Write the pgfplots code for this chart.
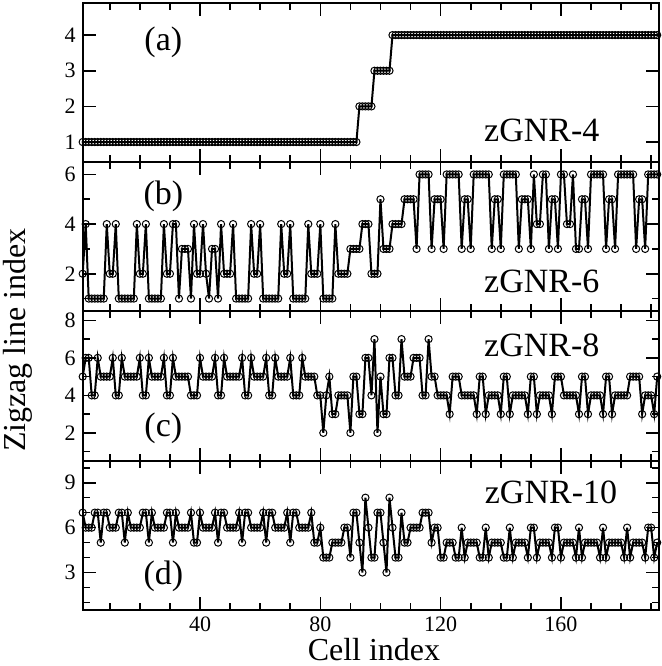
\documentclass[border=0pt]{standalone}
\usepackage{fontspec}
\setmainfont{Liberation Serif}
\usepackage{pgfplots}
\usepackage{pgfplotstable}
\pgfplotsset{compat=1.18}

% columns: cell index, zGNR-4, zGNR-6, zGNR-8, zGNR-10
\pgfplotstableread{
i a b c d
1 1 2 5 7
2 1 4 6 6
3 1 1 6 6
4 1 1 4 6
5 1 1 4 7
6 1 1 6 7
7 1 1 5 5
8 1 1 5 7
9 1 4 5 7
10 1 2 5 6
11 1 2 6 6
12 1 4 4 6
13 1 1 4 7
14 1 1 6 7
15 1 1 5 5
16 1 1 5 7
17 1 1 5 6
18 1 1 5 6
19 1 4 5 6
20 1 2 6 6
21 1 2 4 7
22 1 4 4 7
23 1 1 6 5
24 1 1 5 7
25 1 1 5 6
26 1 1 5 6
27 1 1 5 6
28 1 4 6 6
29 1 2 4 7
30 1 2 4 7
31 1 4 6 5
32 1 4 5 7
33 1 1 5 6
34 1 3 5 6
35 1 3 5 6
36 1 3 5 6
37 1 1 4 7
38 1 4 4 5
39 1 2 4 5
40 1 2 6 7
41 1 4 5 6
42 1 2 5 6
43 1 1 5 6
44 1 3 5 6
45 1 3 6 7
46 1 1 4 5
47 1 4 4 7
48 1 2 6 7
49 1 2 5 6
50 1 2 5 6
51 1 4 5 6
52 1 1 5 6
53 1 1 5 7
54 1 1 6 5
55 1 1 4 7
56 1 1 4 7
57 1 4 6 6
58 1 2 5 6
59 1 2 5 6
60 1 4 5 6
61 1 1 5 7
62 1 1 6 5
63 1 1 4 7
64 1 1 4 7
65 1 1 6 6
66 1 1 5 6
67 1 4 5 6
68 1 2 5 6
69 1 2 5 7
70 1 4 6 5
71 1 1 4 7
72 1 1 4 7
73 1 1 4 6
74 1 1 6 6
75 1 1 5 6
76 1 4 5 6
77 1 2 5 7
78 1 2 5 5
79 1 2 4 5
80 1 4 4 6
81 1 1 2 4
82 1 1 4 4
83 1 1 5 4
84 1 1 3 5
85 1 4 3 5
86 1 2 4 5
87 1 2 4 5
88 1 2 4 6
89 1 2 4 6
90 1 3 2 4
91 1 3 5 7
92 1 3 5 7
93 2 3 3 5
94 2 4 3 3
95 2 4 6 8
96 2 4 6 6
97 2 2 4 4
98 3 2 7 4
99 3 2 2 7
100 3 5 5 7
101 3 3 3 5
102 3 3 3 3
103 3 3 6 8
104 4 4 6 6
105 4 4 4 4
106 4 4 4 4
107 4 4 7 7
108 4 5 5 5
109 4 5 5 5
110 4 5 5 6
111 4 5 6 6
112 4 3 6 6
113 4 6 6 6
114 4 6 4 7
115 4 6 4 7
116 4 6 7 7
117 4 3 5 5
118 4 5 5 6
119 4 5 4 6
120 4 5 4 4
121 4 3 4 4
122 4 6 4 5
123 4 6 3 5
124 4 6 5 5
125 4 6 5 4
126 4 6 5 4
127 4 3 4 6
128 4 5 4 4
129 4 5 4 5
130 4 3 4 5
131 4 6 4 5
132 4 6 3 5
133 4 6 5 4
134 4 6 5 4
135 4 6 3 6
136 4 6 4 4
137 4 3 4 5
138 4 5 4 5
139 4 5 4 5
140 4 3 3 5
141 4 6 5 4
142 4 6 5 4
143 4 6 3 6
144 4 6 4 4
145 4 6 4 5
146 4 3 4 5
147 4 5 4 5
148 4 5 4 5
149 4 5 3 4
150 4 3 5 6
151 4 6 5 6
152 4 4 3 4
153 4 4 4 5
154 4 6 4 5
155 4 6 4 5
156 4 3 4 5
157 4 5 3 4
158 4 5 5 6
159 4 3 5 6
160 4 6 5 4
161 4 6 4 5
162 4 4 4 5
163 4 4 4 5
164 4 6 4 5
165 4 3 4 4
166 4 3 3 6
167 4 5 5 4
168 4 5 5 5
169 4 3 3 5
170 4 6 4 5
171 4 6 4 5
172 4 6 4 5
173 4 6 4 4
174 4 6 3 6
175 4 3 5 4
176 4 5 5 5
177 4 5 3 5
178 4 3 4 5
179 4 6 4 5
180 4 6 4 5
181 4 6 4 4
182 4 6 4 6
183 4 6 5 4
184 4 6 5 5
185 4 3 5 5
186 4 5 5 5
187 4 5 3 5
188 4 3 4 4
189 4 6 4 6
190 4 6 4 6
191 4 6 3 4
192 4 6 5 5
}\zz

\pgfplotsset{
  panel/.style={
    at={(0,#1)}, anchor=south west,
    scale only axis, width=288pt,
    xmin=1, xmax=192.5,
    xtick={40,80,120,160}, minor xtick={10,20,...,190},
    xticklabels={},
    tick align=inside,
    major tick length=6.5pt, minor tick length=3.5pt,
    every tick/.append style={black, line width=0.8pt},
    axis line style={line width=1pt},
    ticklabel style={font=\fontsize{11}{11}\selectfont},
    /pgf/number format/assume math mode=true,
  },
  ser/.style={black, line width=1pt, mark=o, mark size=1.8pt,
    mark options={line width=0.5pt}},
}
\tikzset{lab/.style={font=\fontsize{17}{17}\selectfont}}

\begin{document}
\begin{tikzpicture}
\useasboundingbox (-41.35pt,-28pt) rectangle (289.15pt,305pt);

% (a) zGNR-4
\begin{axis}[panel=224pt, height=79.5pt, ymin=0.44, ymax=4.9, ytick={1,2,3,4}]
  \addplot[ser] table[x=i, y=a] {\zz};
  \node[lab] at (rel axis cs:0.14,0.755) {(a)};
  \node[lab] at (rel axis cs:0.797,0.2) {zGNR-4};
\end{axis}

% (b) zGNR-6
\begin{axis}[panel=149.5pt, height=74.5pt, ymin=0.5, ymax=6.5, ytick={2,4,6}, minor ytick={1,3,5}]
  \addplot[ser] table[x=i, y=b] {\zz};
  \node[lab] at (rel axis cs:0.14,0.772) {(b)};
  \node[lab] at (rel axis cs:0.797,0.2) {zGNR-6};
\end{axis}

% (c) zGNR-8
\begin{axis}[panel=74.5pt, height=75pt, ymin=0.5, ymax=8.5, ytick={2,4,6,8}, minor ytick={1,3,5,7}]
  \addplot[ser] table[x=i, y=c] {\zz};
  \node[lab] at (rel axis cs:0.14,0.22) {(c)};
  \node[lab] at (rel axis cs:0.797,0.773) {zGNR-8};
\end{axis}

% (d) zGNR-10
\begin{axis}[panel=0pt, height=74.5pt, ymin=0.5, ymax=10.45, ytick={3,6,9}, minor ytick={1,2,4,5,7,8,10},
    xticklabels={40,80,120,160}]
  \addplot[ser] table[x=i, y=d] {\zz};
  \node[lab] at (rel axis cs:0.14,0.228) {(d)};
  \node[lab] at (rel axis cs:0.813,0.792) {zGNR-10};
\end{axis}

\node[rotate=90, inner sep=0pt, font=\fontsize{16}{16}\selectfont] at (-32.35pt,135pt) {Zigzag line index};
\node[inner sep=0pt, font=\fontsize{16}{16}\selectfont] at (145.65pt,-20pt) {Cell index};
\end{tikzpicture}
\end{document}
